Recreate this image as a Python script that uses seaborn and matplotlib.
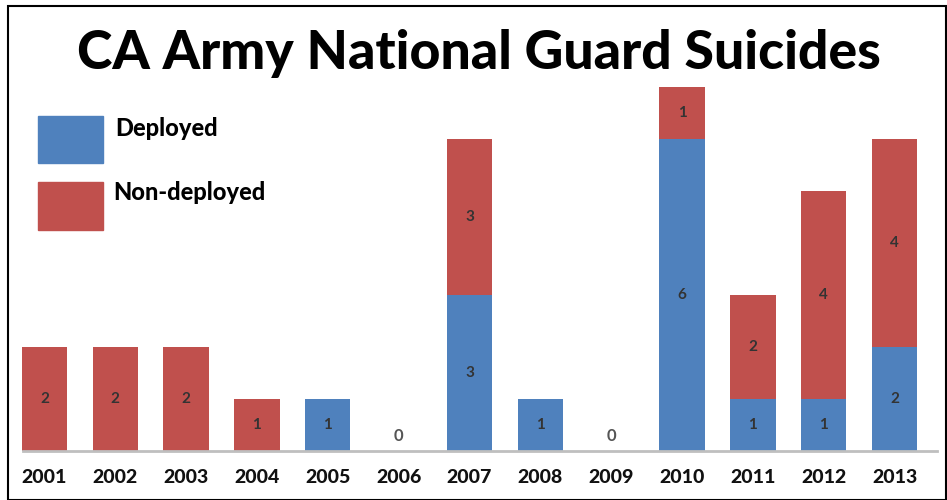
import matplotlib
matplotlib.use("Agg")
import matplotlib.pyplot as plt
import seaborn as sns
import pandas as pd
from matplotlib.patches import Rectangle

years = ["2001", "2002", "2003", "2004", "2005", "2006", "2007",
         "2008", "2009", "2010", "2011", "2012", "2013"]
deployed = [0, 0, 0, 0, 1, 0, 3, 1, 0, 6, 1, 1, 2]
non_deployed = [2, 2, 2, 1, 0, 0, 3, 0, 0, 1, 2, 4, 4]

BLUE = "#4F81BD"
RED = "#C0504D"

sns.set_theme(style="white")
plt.rcParams["font.family"] = ["Lato", "DejaVu Sans"]

df = pd.DataFrame({"year": years, "deployed": deployed, "non_deployed": non_deployed})

fig = plt.figure(figsize=(9.47, 5.0), dpi=100)
ax = fig.add_axes([9 / 947, 49 / 500, 921 / 947, 416 / 500])

sns.barplot(data=df, x="year", y="deployed", order=years, color=BLUE,
            width=0.64, ax=ax, saturation=1, linewidth=0, label="Deployed")
sns.barplot(data=df, x="year", y="non_deployed", order=years, color=RED,
            width=0.64, ax=ax, saturation=1, linewidth=0, bottom=df["deployed"],
            label="Non-deployed")

ax.set_ylim(0, 8)
ax.set_xlim(-0.5, len(years) - 0.5)
ax.set_xlabel("")
ax.set_ylabel("")
ax.set_yticks([])
for s in ["top", "right", "left"]:
    ax.spines[s].set_visible(False)
ax.spines["bottom"].set_color("#BFBFBF")
ax.spines["bottom"].set_linewidth(2)
ax.spines["bottom"].set_bounds(-0.3, len(years) - 0.4)
ax.tick_params(axis="x", length=0, pad=13)
for lbl in ax.get_xticklabels():
    lbl.set_fontsize(14)
    lbl.set_fontweight("black")
    lbl.set_color("#111111")
if ax.get_legend() is not None:
    ax.get_legend().remove()

# segment labels
containers = ax.containers
series = [deployed, non_deployed]
for cont, vals in zip(containers, series):
    labels = [str(v) if v > 0 else "" for v in vals]
    ax.bar_label(cont, labels=labels, label_type="center", fontsize=11,
                 color="#333333", fontweight="bold")
for i, (d, n) in enumerate(zip(deployed, non_deployed)):
    if d + n == 0:
        ax.text(i, 0.28, "0", ha="center", va="center", fontsize=12,
                color="#555555", fontweight="bold")

# title
fig.text(479 / 947, 1 - 53 / 500, "CA Army National Guard Suicides", ha="center",
         va="center", fontsize=38.5, fontweight="black", color="black")

# legend (manual patches)
fig.patches.append(Rectangle((38 / 947, 1 - 163 / 500), 65 / 947, 47 / 500,
                             transform=fig.transFigure, color=BLUE))
fig.patches.append(Rectangle((38 / 947, 1 - 230 / 500), 65 / 947, 48 / 500,
                             transform=fig.transFigure, color=RED))
fig.text(115 / 947, 1 - 128 / 500, "Deployed", ha="left", va="center",
         fontsize=17, fontweight="black", color="black")
fig.text(113 / 947, 1 - 193 / 500, "Non-deployed", ha="left", va="center",
         fontsize=17, fontweight="black", color="black")

# frame
fig.patches.append(Rectangle((8 / 947, 0), 938 / 947, 1 - 6 / 500,
                             transform=fig.transFigure, fill=False,
                             edgecolor="black", linewidth=1.5))

fig.savefig("out.png", dpi=100)
